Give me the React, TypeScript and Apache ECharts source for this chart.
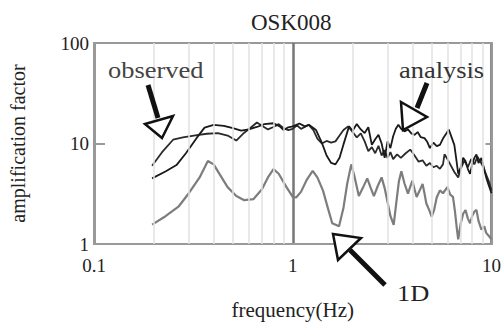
import React, { useEffect, useRef } from "react";
import * as echarts from "echarts";

const xTickValues = [0.1, 1, 10];
const yTickValues = [1, 10, 100];
const minorGridFreqs = [0.2, 0.3, 0.4, 0.5, 0.6, 0.7, 0.8, 0.9, 2, 3, 4, 5, 6, 7, 8, 9];

const observed: [number, number][] = [
  [0.196, 6.0], [0.22, 8.2], [0.25, 10.9], [0.28, 11.5], [0.33, 12.1], [0.37, 12.5], [0.42, 12.7],
  [0.47, 12.0], [0.52, 10.7], [0.57, 12.8], [0.62, 14.6], [0.66, 16.2], [0.7, 15.0], [0.75, 13.8],
  [0.8, 14.6], [0.85, 15.6], [0.9, 14.2], [0.95, 13.6], [1.0, 14.0], [1.05, 15.2], [1.1, 14.0],
  [1.15, 14.6], [1.2, 15.4], [1.27, 13.6], [1.33, 11.2], [1.4, 10.0], [1.48, 10.6], [1.56, 10.2],
  [1.64, 10.5], [1.72, 12.0], [1.8, 13.6], [1.9, 14.8], [2.0, 13.0], [2.1, 11.5], [2.2, 12.6],
  [2.3, 10.5], [2.4, 8.4], [2.5, 9.2], [2.6, 8.0], [2.7, 9.5], [2.8, 7.6], [2.9, 8.6], [3.0, 7.2],
  [3.1, 8.2], [3.2, 7.0], [3.35, 7.8], [3.5, 7.2], [3.7, 8.0], [3.9, 8.7], [4.1, 7.6], [4.3, 6.6],
  [4.5, 6.8], [4.7, 6.0], [4.9, 6.4], [5.1, 5.8], [5.3, 6.0], [5.5, 5.6], [5.7, 6.2], [5.8, 7.8],
  [6.0, 7.0], [6.2, 6.2], [6.5, 5.2], [6.8, 4.6], [7.0, 5.6], [7.3, 6.8], [7.6, 5.8], [7.9, 7.0],
  [8.2, 6.2], [8.5, 7.4], [8.8, 6.6], [9.1, 5.8], [9.4, 4.9], [9.7, 4.2], [10, 3.4],
];

const analysis: [number, number][] = [
  [0.196, 4.5], [0.23, 5.3], [0.26, 6.1], [0.29, 8.0], [0.33, 11.5], [0.36, 14.4], [0.4, 15.3],
  [0.45, 15.0], [0.5, 14.2], [0.55, 13.4], [0.6, 13.8], [0.66, 14.6], [0.72, 15.6], [0.8, 15.9],
  [0.86, 14.8], [0.9, 13.6], [0.95, 14.5], [1.0, 14.8], [1.08, 15.8], [1.15, 14.8], [1.21, 15.3],
  [1.31, 13.6], [1.4, 10.2], [1.48, 7.6], [1.56, 6.4], [1.64, 6.2], [1.72, 7.2], [1.8, 9.8],
  [1.92, 14.8], [2.0, 13.4], [2.1, 15.6], [2.2, 13.8], [2.3, 12.7], [2.4, 14.5], [2.5, 9.7],
  [2.6, 11.0], [2.7, 12.2], [2.8, 10.0], [2.9, 7.2], [3.0, 10.5], [3.1, 9.0], [3.2, 11.8],
  [3.3, 14.0], [3.4, 15.4], [3.5, 14.1], [3.65, 13.2], [3.8, 13.8], [3.95, 12.6], [4.1, 12.2],
  [4.25, 13.0], [4.4, 11.6], [4.6, 11.3], [4.75, 10.4], [4.9, 9.0], [5.1, 10.2], [5.3, 9.4],
  [5.5, 9.7], [5.7, 11.2], [5.9, 12.4], [6.1, 13.8], [6.3, 11.5], [6.5, 9.7], [6.65, 7.0],
  [6.8, 5.0], [7.0, 5.8], [7.2, 7.2], [7.4, 6.7], [7.6, 5.6], [7.8, 5.0], [8.0, 6.2], [8.2, 7.2],
  [8.4, 7.8], [8.6, 6.4], [8.9, 7.2], [9.1, 6.0], [9.4, 4.6], [9.7, 3.8], [10, 3.2],
];

const oneD: [number, number][] = [
  [0.196, 1.56], [0.23, 1.9], [0.266, 2.35], [0.3, 3.2], [0.34, 4.6], [0.374, 6.7], [0.4, 6.2],
  [0.43, 4.9], [0.47, 3.68], [0.52, 3.0], [0.57, 2.73], [0.635, 2.8], [0.7, 3.5], [0.75, 4.6],
  [0.8, 5.55], [0.85, 5.0], [0.93, 3.68], [1.0, 2.94], [1.04, 2.9], [1.1, 3.3], [1.18, 4.4],
  [1.26, 5.34], [1.33, 4.6], [1.42, 3.4], [1.5, 2.3], [1.58, 1.61], [1.71, 1.5], [1.8, 2.3],
  [1.88, 4.0], [1.97, 6.2], [2.05, 4.6], [2.15, 3.0], [2.25, 3.6], [2.37, 4.5], [2.47, 3.6],
  [2.56, 3.0], [2.68, 3.8], [2.8, 4.6], [2.9, 3.6], [3.0, 2.6], [3.1, 1.9], [3.22, 1.55],
  [3.32, 2.6], [3.42, 4.2], [3.52, 5.3], [3.65, 4.0], [3.8, 3.17], [3.9, 3.7], [4.0, 4.27],
  [4.1, 3.5], [4.2, 2.94], [4.35, 3.4], [4.5, 3.96], [4.6, 3.2], [4.7, 2.53], [4.85, 2.2],
  [5.0, 1.87], [5.15, 2.2], [5.3, 2.9], [5.5, 3.42], [5.7, 3.2], [6.0, 3.68], [6.2, 3.1],
  [6.4, 2.94], [6.55, 2.1], [6.7, 1.4], [6.8, 1.11], [7.0, 1.6], [7.2, 2.0], [7.4, 2.18],
  [7.6, 1.8], [7.8, 1.61], [8.0, 1.9], [8.2, 2.1], [8.4, 2.18], [8.6, 1.7], [8.9, 1.39],
  [9.2, 1.5], [9.4, 1.29], [9.7, 1.2], [10, 1.11],
];

const FONT = "Liberation Serif";

export default function App() {
  const ref = useRef<HTMLDivElement>(null);
  useEffect(() => {
    if (!ref.current) return;
    const chart = echarts.init(ref.current, null, { renderer: "svg" });
    const arrowHead = (points: number[][]) => ({
      type: "polygon",
      shape: { points },
      style: { fill: "#fff", stroke: "#111", lineWidth: 2.5 },
      z: 100,
    });
    const arrowShaft = (x1: number, y1: number, x2: number, y2: number) => ({
      type: "line",
      shape: { x1, y1, x2, y2 },
      style: { stroke: "#111", lineWidth: 5 },
      z: 99,
    });
    const label = (text: string, x: number, y: number, color: string) => ({
      type: "text",
      x,
      y,
      scaleX: 1.15,
      style: { text, fill: color, fontFamily: FONT, fontSize: 23, verticalAlign: "middle" },
      z: 101,
    });
    chart.setOption({
      animation: false,
      backgroundColor: "#fff",
      textStyle: { fontFamily: FONT },
      title: {
        text: "OSK008",
        left: 251,
        top: 11,
        padding: 0,
        textStyle: { fontFamily: FONT, fontSize: 23, fontWeight: "normal", color: "#222" },
      },
      grid: { left: 91, right: 8, top: 43, bottom: 77, show: true, borderColor: "#999", borderWidth: 2, backgroundColor: "transparent" },
      xAxis: {
        type: "log",
        logBase: 10,
        min: xTickValues[0],
        max: xTickValues[xTickValues.length - 1],
        name: "frequency(Hz)",
        nameLocation: "middle",
        nameGap: 55,
        nameTextStyle: { fontFamily: FONT, fontSize: 21, color: "#222" },
        axisLine: { show: true, lineStyle: { color: "#999", width: 2 } },
        axisTick: { show: false },
        axisLabel: {
          fontFamily: FONT,
          fontSize: 19,
          color: "#222",
          margin: 12,
          formatter: (v: number) => String(+v.toPrecision(3)),
        },
        splitLine: { show: true, lineStyle: { color: "#777", width: 2.5 } },
      },
      yAxis: [
        {
          type: "log",
          logBase: 10,
          min: yTickValues[0],
          max: yTickValues[yTickValues.length - 1],
          name: "amplification factor",
          nameLocation: "middle",
          nameGap: 66,
          nameTextStyle: { fontFamily: FONT, fontSize: 20, color: "#222" },
          axisLine: { show: true, lineStyle: { color: "#999", width: 2 } },
          axisTick: { show: true, inside: true, length: 11, lineStyle: { color: "#999", width: 2 } },
          axisLabel: {
            fontFamily: FONT,
            fontSize: 19,
            color: "#222",
            margin: 5,
            formatter: (v: number) => String(+v.toPrecision(3)),
          },
          splitLine: { show: false },
        },
        {
          type: "log",
          logBase: 10,
          min: yTickValues[0],
          max: yTickValues[yTickValues.length - 1],
          position: "right",
          axisLine: { show: true, lineStyle: { color: "#999", width: 2 } },
          axisTick: { show: true, inside: true, length: 6, lineStyle: { color: "#999", width: 2 } },
          axisLabel: { show: false },
          splitLine: { show: false },
        },
      ],
      series: [
        {
          type: "line",
          name: "grid",
          data: [],
          z: 1,
          silent: true,
          markLine: {
            silent: true,
            symbol: "none",
            label: { show: false },
            lineStyle: { color: "#e2e2e2", width: 1.5, type: "solid" },
            data: minorGridFreqs.map((f) => ({ xAxis: f })),
          },
        },
        {
          type: "line",
          name: "1D",
          data: oneD,
          showSymbol: false,
          z: 3,
          lineStyle: { color: "#7d7d7d", width: 2.2 },
        },
        {
          type: "line",
          name: "observed",
          data: observed,
          showSymbol: false,
          z: 4,
          lineStyle: { color: "#2a2a2a", width: 1.8 },
        },
        {
          type: "line",
          name: "analysis",
          data: analysis,
          showSymbol: false,
          z: 4,
          lineStyle: { color: "#1a1a1a", width: 1.8 },
        },
      ],
      graphic: [
        label("observed", 108, 70, "#444"),
        label("analysis", 399, 70, "#333"),
        label("1D", 397, 293, "#222"),
        arrowShaft(148, 85, 158, 118),
        arrowHead([[145, 124], [173, 116], [162, 138]]),
        arrowShaft(427, 83, 417, 108),
        arrowHead([[401, 102], [427, 117], [403, 130]]),
        arrowShaft(385, 285, 350, 250),
        arrowHead([[333, 234], [361, 238], [338, 260]]),
      ],
    });
    return () => chart.dispose();
  }, []);
  return <div ref={ref} style={{ width: 504, height: 325, position: "absolute", left: 0, top: 0 }} />;
}
